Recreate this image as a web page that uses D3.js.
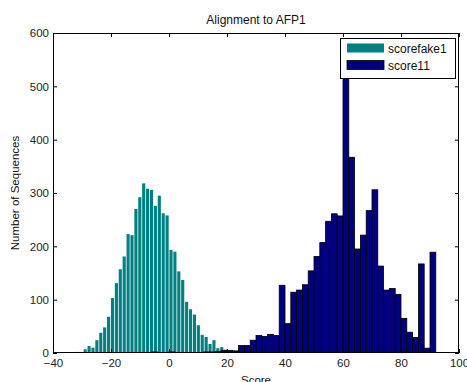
<!DOCTYPE html>
<html>
<head>
<meta charset="utf-8">
<script src="https://cdn.jsdelivr.net/npm/d3@7/dist/d3.min.js"></script>
<style>
  html, body { margin: 0; padding: 0; background: #fff; }
  svg { display: block; font-family: "Liberation Sans", Arial, sans-serif; }
</style>
</head>
<body>
<svg id="chart" width="467" height="382"></svg>
<script>
// ---- data ----
const title = "Alignment to AFP1";
const xLabel = "Score";
const yLabel = "Number of Sequences";
const seriesNames = ["scorefake1", "score11"];

// scorefake1 histogram: bin centres and counts
const fakeCenters = [-31.6, -30.25, -28.9, -27.56, -26.22, -24.87, -23.52, -22.18, -20.83, -19.49,
  -18.14, -16.8, -15.45, -14.1, -12.76, -11.41, -10.07, -8.72, -7.38, -6.03,
  -4.69, -3.34, -1.99, -0.65, 0.7, 2.04, 3.39, 4.73, 6.08, 7.42,
  8.77, 10.12, 11.46, 12.81, 14.15, 15.5, 16.84, 18.19, 19.53, 20.88];
const fakeCounts = [2, 2, 7, 13, 10, 24, 38, 48, 68, 103,
  131, 157, 181, 223, 221, 270, 292, 318, 308, 306,
  276, 295, 262, 258, 193, 190, 153, 137, 96, 82,
  72, 52, 34, 30, 17, 24, 9, 11, 6, 2];

// score11 histogram: bin centres and counts
const realCenters = [-7, -5, -3, -1, 1, 3, 5, 7, 9, 11,
  13, 15, 17, 19, 21, 23, 25, 27, 29, 31,
  33, 35, 37, 39, 41, 43, 45, 47, 49, 51,
  53, 55, 57, 59, 61, 63, 65, 67, 69, 71,
  73, 75, 77, 79, 81, 83, 85, 87, 89, 91];
const realCounts = [1, 2, 0, 0, 2, 1, 0, 0, 0, 1,
  2, 2, 3, 5, 5, 4, 14, 14, 24, 33,
  31, 35, 33, 127, 55, 114, 118, 128, 154, 181,
  207, 247, 261, 257, 545, 367, 195, 221, 267, 306,
  163, 118, 121, 110, 65, 39, 29, 167, 9, 189];

const xTicks = [-40, -20, 0, 20, 40, 60, 80, 100];
const yTicks = [0, 100, 200, 300, 400, 500, 600];

const fakeWidth = 1.346;
const realWidth = 2;

// ---- layout ----
const svg = d3.select("#chart");
const L = 53, R = 459, T = 33, B = 353;
const x = d3.scaleLinear().domain([-40, 100]).range([L, R]);
const y = d3.scaleLinear().domain([0, 600]).range([B, T]);

const teal = "#008080", navy = "#000080";

svg.append("defs").append("clipPath").attr("id", "plotclip")
  .append("rect").attr("x", L).attr("y", T).attr("width", R - L).attr("height", B - T);

const plot = svg.append("g").attr("clip-path", "url(#plotclip)");

// scorefake1 bars (narrow, no dark edge)
plot.append("g").selectAll("rect")
  .data(fakeCenters.map((c, i) => ({c, v: fakeCounts[i]})))
  .join("rect")
  .attr("x", d => x(d.c - fakeWidth * 0.4))
  .attr("width", d => x(d.c + fakeWidth * 0.4) - x(d.c - fakeWidth * 0.4))
  .attr("y", d => y(d.v))
  .attr("height", d => y(0) - y(d.v))
  .attr("fill", teal);

// score11 bars (full width, black edges)
plot.append("g").selectAll("rect")
  .data(realCenters.map((c, i) => ({c, v: realCounts[i]})).filter(d => d.v > 0))
  .join("rect")
  .attr("x", d => x(d.c - realWidth / 2))
  .attr("width", d => x(d.c + realWidth / 2) - x(d.c - realWidth / 2))
  .attr("y", d => y(d.v))
  .attr("height", d => y(0) - y(d.v))
  .attr("fill", navy)
  .attr("stroke", "#000")
  .attr("stroke-width", 0.8);

// ---- axes ----
const tickColor = "#000";
const fontSize = 11.5;

const xAxisB = svg.append("g").attr("transform", `translate(0,${B})`)
  .call(d3.axisBottom(x).tickValues(xTicks).tickSizeInner(-4).tickSizeOuter(0).tickPadding(6).tickFormat(d3.format("d")));
const xAxisT = svg.append("g").attr("transform", `translate(0,${T})`)
  .call(d3.axisTop(x).tickValues(xTicks).tickSizeInner(-4).tickSizeOuter(0).tickFormat(""));
const yAxisL = svg.append("g").attr("transform", `translate(${L},0)`)
  .call(d3.axisLeft(y).tickValues(yTicks).tickSizeInner(-4).tickSizeOuter(0).tickPadding(4).tickFormat(d3.format("d")));
const yAxisR = svg.append("g").attr("transform", `translate(${R},0)`)
  .call(d3.axisRight(y).tickValues(yTicks).tickSizeInner(-4).tickSizeOuter(0).tickFormat(""));

[xAxisB, xAxisT, yAxisL, yAxisR].forEach(g => {
  g.select(".domain").remove();
  g.selectAll(".tick line").attr("stroke", tickColor).attr("stroke-width", 1);
  g.selectAll(".tick text").attr("fill", "#222").attr("font-size", fontSize)
    .attr("font-family", "'Liberation Sans', Arial, sans-serif");
});

svg.append("rect").attr("x", L + 0.5).attr("y", T + 0.5)
  .attr("width", R - L - 1).attr("height", B - T - 1)
  .attr("fill", "none").attr("stroke", "#000").attr("stroke-width", 1);

// ---- titles ----
svg.append("text").attr("x", (L + R) / 2).attr("y", 24)
  .attr("text-anchor", "middle").attr("font-size", 12).attr("fill", "#111").text(title);
svg.append("text").attr("x", (L + R) / 2).attr("y", 384)
  .attr("text-anchor", "middle").attr("font-size", 11.5).attr("fill", "#111").text(xLabel);
svg.append("text").attr("transform", `translate(19,${(T + B) / 2}) rotate(-90)`)
  .attr("text-anchor", "middle").attr("font-size", 11.5).attr("fill", "#111").text(yLabel);

// ---- legend ----
const leg = svg.append("g");
leg.append("rect").attr("x", 340.5).attr("y", 38.5).attr("width", 115).attr("height", 40)
  .attr("fill", "#fff").attr("stroke", "#000").attr("stroke-width", 1);
const legColors = [teal, navy];
seriesNames.forEach((name, i) => {
  const yy = 43.5 + i * 17;
  leg.append("rect").attr("x", 347).attr("y", yy).attr("width", 37).attr("height", 9)
    .attr("fill", legColors[i]).attr("stroke", i === 1 ? "#000" : "none").attr("stroke-width", 0.8);
  leg.append("text").attr("x", 388).attr("y", yy + 9).attr("font-size", 12)
    .attr("fill", "#111").text(name);
});
</script>
</body>
</html>
